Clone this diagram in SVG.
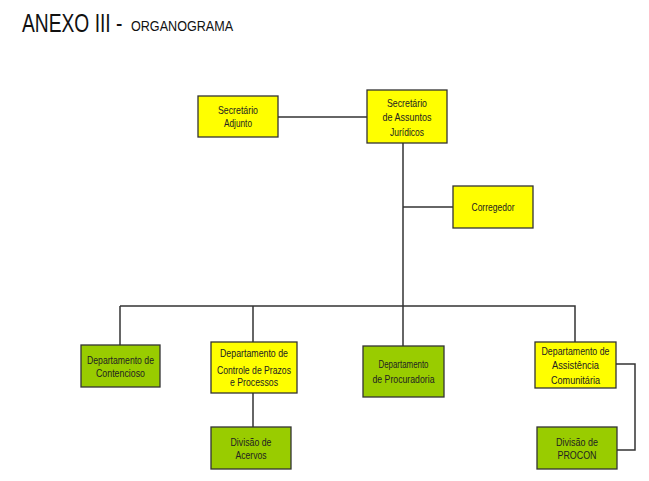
<svg xmlns="http://www.w3.org/2000/svg" width="649" height="481" viewBox="0 0 649 481">
<style>
.box{stroke:#333;stroke-width:1.3}
.y{fill:#ffff00}
.g{fill:#99cc00}
.t{font-family:"Liberation Sans",Arial,sans-serif;font-size:11px;fill:#222;text-anchor:middle}
.c{fill:none;stroke:#333;stroke-width:1.5}
</style>
<rect width="649" height="481" fill="#fff"/>
<g id="title" font-family="'Liberation Sans',Arial,sans-serif" fill="#111">
<text transform="translate(22,32) scale(0.74,1)" font-size="26">ANEXO III -</text>
<text transform="translate(131,31) scale(0.9,1)" font-size="14">ORGANOGRAMA</text>
</g>
<g id="connectors">
<path class="c" d="M278 117H367"/>
<path class="c" d="M403 143V346"/>
<path class="c" d="M403 207H453"/>
<path class="c" d="M120 306H575V342"/>
<path class="c" d="M120 306V345"/>
<path class="c" d="M253 306V342"/>
<path class="c" d="M253 393V427"/>
<path class="c" d="M616 364H635V450H617"/>
</g>
<g id="adjunto">
<rect class="box y" x="198" y="96" width="80" height="41"/>
<text class="t" x="238" y="114" textLength="40" lengthAdjust="spacingAndGlyphs">Secretário</text>
<text class="t" x="238" y="127" textLength="28" lengthAdjust="spacingAndGlyphs">Adjunto</text>
</g>
<g id="secretario">
<rect class="box y" x="367" y="90" width="80" height="53"/>
<text class="t" x="407" y="107" textLength="40" lengthAdjust="spacingAndGlyphs">Secretário</text>
<text class="t" x="407" y="121" textLength="49" lengthAdjust="spacingAndGlyphs">de Assuntos</text>
<text class="t" x="407" y="136" textLength="34" lengthAdjust="spacingAndGlyphs">Jurídicos</text>
</g>
<g id="corregedor">
<rect class="box y" x="453" y="186" width="80" height="42"/>
<text class="t" x="493" y="211" textLength="43" lengthAdjust="spacingAndGlyphs">Corregedor</text>
</g>
<g id="contencioso">
<rect class="box g" x="81" y="345" width="79" height="42"/>
<text class="t" x="120.5" y="364" textLength="67" lengthAdjust="spacingAndGlyphs">Departamento de</text>
<text class="t" x="120.5" y="377" textLength="49" lengthAdjust="spacingAndGlyphs">Contencioso</text>
</g>
<g id="controle">
<rect class="box y" x="211" y="342" width="86" height="51"/>
<text class="t" x="254" y="357" textLength="68" lengthAdjust="spacingAndGlyphs">Departamento de</text>
<text class="t" x="254" y="374" textLength="74" lengthAdjust="spacingAndGlyphs">Controle de Prazos</text>
<text class="t" x="254" y="386" textLength="48" lengthAdjust="spacingAndGlyphs">e Processos</text>
</g>
<g id="procuradoria">
<rect class="box g" x="363" y="346" width="81" height="51"/>
<text class="t" x="403.5" y="368" textLength="50" lengthAdjust="spacingAndGlyphs">Departamento</text>
<text class="t" x="403.5" y="383" textLength="62" lengthAdjust="spacingAndGlyphs">de Procuradoria</text>
</g>
<g id="assistencia">
<rect class="box y" x="535" y="342" width="81" height="46"/>
<text class="t" x="575.5" y="355" textLength="68" lengthAdjust="spacingAndGlyphs">Departamento de</text>
<text class="t" x="575.5" y="369" textLength="47" lengthAdjust="spacingAndGlyphs">Assistência</text>
<text class="t" x="575.5" y="384" textLength="49" lengthAdjust="spacingAndGlyphs">Comunitária</text>
</g>
<g id="acervos">
<rect class="box g" x="211" y="427" width="80" height="42"/>
<text class="t" x="251" y="446" textLength="41" lengthAdjust="spacingAndGlyphs">Divisão de</text>
<text class="t" x="251" y="459" textLength="31" lengthAdjust="spacingAndGlyphs">Acervos</text>
</g>
<g id="procon">
<rect class="box g" x="537" y="427" width="80" height="42"/>
<text class="t" x="577" y="446" textLength="42" lengthAdjust="spacingAndGlyphs">Divisão de</text>
<text class="t" x="577" y="459" textLength="39" lengthAdjust="spacingAndGlyphs">PROCON</text>
</g>
</svg>
